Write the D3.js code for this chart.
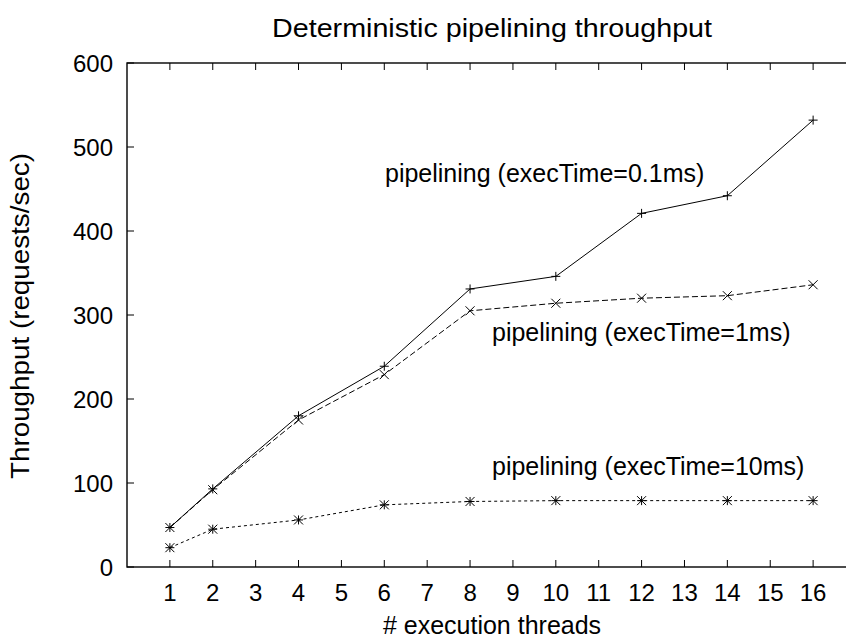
<!DOCTYPE html>
<html>
<head>
<meta charset="utf-8">
<script src="https://cdn.jsdelivr.net/npm/d3@7"></script>
<style>
  body { margin: 0; background: #fff; }
  text { font-family: "Liberation Sans", Arial, sans-serif; fill: #000; }
</style>
</head>
<body>
<div id="chart"></div>
<script>
const threads = [1, 2, 4, 6, 8, 10, 12, 14, 16]
const xTicks = d3.range(1, 17)
const yTicks = [0, 100, 200, 300, 400, 500, 600]

const exec01 = [47, 93, 180, 239, 331, 346, 421, 442, 532]
const exec1 = [47, 92, 175, 229, 305, 314, 320, 323, 336]
const exec10 = [23, 45, 56, 74, 78, 79, 79, 79, 79]

const seriesNames = [
  "pipelining (execTime=0.1ms)",
  "pipelining (execTime=1ms)",
  "pipelining (execTime=10ms)"
]

var width = 846, height = 641
var margin = { left: 127, right: -10, top: 63, bottom: 74 }

var svg = d3.select("#chart").append("svg")
  .attr("width", width)
  .attr("height", height)

var x = d3.scaleLinear().domain([0, 17]).range([margin.left, width - margin.right])
var y = d3.scaleLinear().domain([0, 600]).range([height - margin.bottom, margin.top])

// frame
svg.append("rect")
  .attr("x", x(0)).attr("y", y(600))
  .attr("width", x(17) - x(0)).attr("height", y(0) - y(600))
  .attr("fill", "none").attr("stroke", "#000").attr("stroke-width", 1.4)

// x ticks bottom and top (inward)
xTicks.forEach(function (t) {
  svg.append("line").attr("x1", x(t)).attr("x2", x(t))
    .attr("y1", y(0)).attr("y2", y(0) - 7).attr("stroke", "#000")
  svg.append("line").attr("x1", x(t)).attr("x2", x(t))
    .attr("y1", y(600)).attr("y2", y(600) + 7).attr("stroke", "#000")
  svg.append("text").attr("x", x(t)).attr("y", y(0) + 34)
    .attr("text-anchor", "middle").attr("font-size", 24).text(t)
})

yTicks.forEach(function (t) {
  svg.append("line").attr("x1", x(0)).attr("x2", x(0) + 7)
    .attr("y1", y(t)).attr("y2", y(t)).attr("stroke", "#000")
  svg.append("text").attr("x", x(0) - 14).attr("y", y(t) + 9)
    .attr("text-anchor", "end").attr("font-size", 24).text(t)
})

// titles
svg.append("text").attr("x", 492).attr("y", 37)
  .attr("text-anchor", "middle").attr("font-size", 26)
  .attr("textLength", 440).attr("lengthAdjust", "spacingAndGlyphs")
  .text("Deterministic pipelining throughput")
svg.append("text").attr("x", 492).attr("y", 634)
  .attr("text-anchor", "middle").attr("font-size", 25).text("# execution threads")
svg.append("text").attr("transform", "translate(29,316) rotate(-90)")
  .attr("text-anchor", "middle").attr("font-size", 25)
  .attr("textLength", 326).attr("lengthAdjust", "spacingAndGlyphs")
  .text("Throughput (requests/sec)")

var line = d3.line().x(function (d) { return x(d[0]) }).y(function (d) { return y(d[1]) })

function drawSeries(values, dash, marker) {
  var pts = threads.map(function (t, i) { return [t, values[i]] })
  svg.append("path").datum(pts)
    .attr("d", line).attr("fill", "none").attr("stroke", "#000")
    .attr("stroke-width", 1).attr("stroke-dasharray", dash)
  var s = 4.5
  pts.forEach(function (p) {
    var cx = x(p[0]), cy = y(p[1])
    var segs = []
    if (marker == "plus" || marker == "star") {
      segs.push([cx - s, cy, cx + s, cy], [cx, cy - s, cx, cy + s])
    }
    if (marker == "cross" || marker == "star") {
      segs.push([cx - s, cy - s, cx + s, cy + s], [cx - s, cy + s, cx + s, cy - s])
    }
    segs.forEach(function (g) {
      svg.append("line").attr("x1", g[0]).attr("y1", g[1]).attr("x2", g[2]).attr("y2", g[3])
        .attr("stroke", "#000").attr("stroke-width", 1)
    })
  })
}

drawSeries(exec01, null, "plus")
drawSeries(exec1, "6,3", "cross")
drawSeries(exec10, "3,3", "star")

// series labels
svg.append("text").attr("x", 385).attr("y", 182).attr("font-size", 25).text(seriesNames[0])
svg.append("text").attr("x", 492).attr("y", 341).attr("font-size", 25).text(seriesNames[1])
svg.append("text").attr("x", 492).attr("y", 475).attr("font-size", 25).text(seriesNames[2])
</script>
</body>
</html>
